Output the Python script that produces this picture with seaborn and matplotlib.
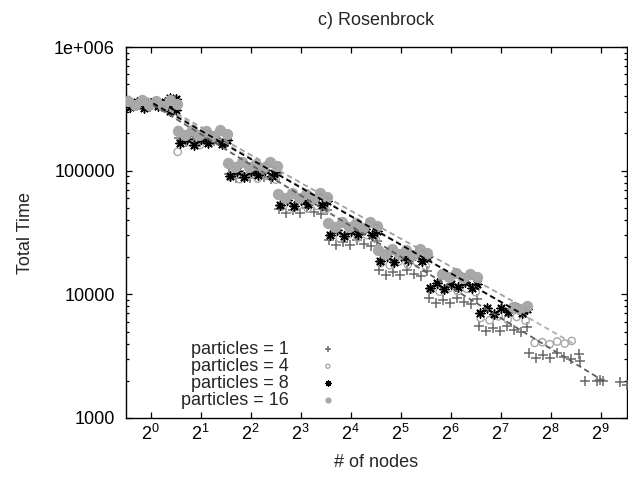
import numpy as np
import pandas as pd
import matplotlib
matplotlib.use("Agg")
import matplotlib.pyplot as plt
import seaborn as sns
from matplotlib.ticker import NullLocator, LogLocator, NullFormatter

# ---------------- data (log2 of node count, total time) ----------------
series_labels = ["particles = 1", "particles = 4", "particles = 8", "particles = 16"]

p1_log2n = [
    -0.44, -0.30, -0.16, -0.02, 0.12, 0.26, 0.40, 0.52,
    0.56, 0.70, 0.84, 0.98, 1.12, 1.26, 1.40, 1.52,
    1.56, 1.70, 1.84, 1.98, 2.12, 2.26, 2.40, 2.52,
    2.56, 2.70, 2.84, 2.98, 3.12, 3.26, 3.40, 3.52,
    3.56, 3.70, 3.84, 3.98, 4.12, 4.26, 4.40, 4.52,
    4.56, 4.70, 4.84, 4.98, 5.12, 5.26, 5.40, 5.52,
    5.56, 5.70, 5.84, 5.98, 6.12, 6.26, 6.40, 6.52,
    6.56, 6.70, 6.84, 6.98, 7.12, 7.26, 7.40, 7.52,
    7.56, 7.70, 7.84, 7.98, 8.12, 8.26, 8.40, 8.56,
    8.58, 8.68, 8.92, 8.98, 9.04, 9.38, 9.52]
p1_time = [
    360e3, 333e3, 350e3, 329e3, 364e3, 340e3, 326e3, 354e3,
    185e3, 171e3, 180e3, 169e3, 187e3, 175e3, 167e3, 182e3,
    94.8e3, 87.4e3, 92.0e3, 86.5e3, 95.7e3, 89.2e3, 85.6e3, 92.9e3,
    49.4e3, 45.6e3, 48.0e3, 45.1e3, 49.9e3, 46.6e3, 44.6e3, 48.5e3,
    27.3e3, 25.2e3, 26.5e3, 24.9e3, 27.6e3, 25.7e3, 24.6e3, 26.8e3,
    15.7e3, 14.4e3, 15.2e3, 14.3e3, 15.8e3, 14.7e3, 14.1e3, 15.4e3,
    9.27e3, 8.55e3, 9.00e3, 8.46e3, 9.36e3, 8.73e3, 8.37e3, 9.09e3,
    5.51e3, 5.08e3, 5.35e3, 5.03e3, 5.56e3, 5.19e3, 4.98e3, 5.40e3,
    3.34e3, 3.08e3, 3.24e3, 3.05e3, 3.37e3, 3.14e3, 3.01e3, 3.27e3,
    2.90e3, 2.00e3, 1.98e3, 2.02e3, 2.00e3, 1.95e3, 1.85e3]

p4_log2n = [
    -0.40, -0.22, -0.04, 0.14, 0.32, 0.50,
    0.60, 0.78, 0.96, 1.14, 1.32, 1.50, 0.54, 0.98, 0.55,
    1.60, 1.78, 1.96, 2.14, 2.32, 2.50,
    2.60, 2.78, 2.96, 3.14, 3.32, 3.50,
    3.60, 3.78, 3.96, 4.14, 4.32, 4.50,
    4.60, 4.78, 4.96, 5.14, 5.32, 5.50,
    5.60, 5.78, 5.96, 6.14, 6.32, 6.50,
    6.60, 6.78, 6.96, 7.14, 7.32, 7.50,
    7.68, 7.83, 7.98, 8.13, 8.28, 8.42]
p4_time = [
    350e3, 336e3, 360e3, 340e3, 357e3, 333e3,
    177e3, 170e3, 182e3, 172e3, 181e3, 168e3, 142e3, 161e3, 213e3,
    89.0e3, 85.4e3, 91.7e3, 86.3e3, 90.8e3, 84.6e3,
    51.0e3, 49.0e3, 52.5e3, 49.5e3, 52.0e3, 48.5e3,
    29.6e3, 28.4e3, 30.5e3, 28.7e3, 30.2e3, 28.1e3,
    17.9e3, 17.2e3, 18.4e3, 17.4e3, 18.3e3, 17.0e3,
    10.9e3, 10.5e3, 11.2e3, 10.6e3, 11.1e3, 10.4e3,
    6.44e3, 6.18e3, 6.63e3, 6.25e3, 6.57e3, 6.12e3,
    4.05e3, 4.10e3, 3.95e3, 4.15e3, 4.00e3, 4.20e3]

p8_log2n = [
    -0.42, -0.28, -0.14, 0.00, 0.14, 0.28, 0.42, 0.53, 0.38, 0.38, 0.38, 0.50, 0.50,
    0.58, 0.72, 0.86, 1.00, 1.14, 1.28, 1.42, 1.53,
    1.58, 1.72, 1.86, 2.00, 2.14, 2.28, 2.42, 2.53,
    2.58, 2.72, 2.86, 3.00, 3.14, 3.28, 3.42, 3.53,
    3.58, 3.72, 3.86, 4.00, 4.14, 4.28, 4.42, 4.53,
    4.58, 4.72, 4.86, 5.00, 5.14, 5.28, 5.42, 5.53,
    5.58, 5.72, 5.86, 6.00, 6.14, 6.28, 6.42, 6.53,
    6.58, 6.72, 6.86, 7.00, 7.14, 7.28, 7.42, 7.53]
p8_time = [
    330e3, 356e3, 322e3, 353e3, 333e3, 362e3, 326e3, 349e3, 385e3, 345e3, 305e3, 380e3, 310e3,
    166e3, 181e3, 162e3, 179e3, 168e3, 183e3, 164e3, 177e3,
    91.0e3, 99.5e3, 89.0e3, 98.5e3, 92.0e3, 100.5e3, 90.0e3, 97.5e3,
    53.0e3, 58.0e3, 52.0e3, 57.4e3, 53.6e3, 58.5e3, 52.5e3, 56.9e3,
    30.3e3, 33.2e3, 29.7e3, 32.8e3, 30.7e3, 33.5e3, 30.0e3, 32.5e3,
    18.7e3, 20.5e3, 18.3e3, 20.3e3, 18.9e3, 20.7e3, 18.5e3, 20.1e3,
    11.3e3, 12.4e3, 11.1e3, 12.2e3, 11.5e3, 12.5e3, 11.2e3, 12.1e3,
    7.12e3, 7.78e3, 6.97e3, 7.70e3, 7.18e3, 7.85e3, 7.04e3, 7.62e3]

p16_log2n = [
    -0.45, -0.31, -0.17, -0.03, 0.11, 0.25, 0.39, 0.52,
    0.55, 0.69, 0.83, 0.97, 1.11, 1.25, 1.39, 1.52,
    1.55, 1.69, 1.83, 1.97, 2.11, 2.25, 2.39, 2.52,
    2.55, 2.69, 2.83, 2.97, 3.11, 3.25, 3.39, 3.52,
    3.55, 3.69, 3.83, 3.97, 4.11, 4.25, 4.39, 4.52,
    4.55, 4.69, 4.83, 4.97, 5.11, 5.25, 5.39, 5.52,
    5.83, 5.97, 6.11, 6.25, 6.39, 6.52,
    7.25, 7.39, 7.52]
p16_time = [
    367e3, 339e3, 371e3, 342e3, 364e3, 335e3, 374e3, 346e3,
    210e3, 194e3, 212e3, 196e3, 208e3, 192e3, 214e3, 198e3,
    115e3, 107e3, 117e3, 108e3, 114e3, 105e3, 118e3, 109e3,
    64.9e3, 59.9e3, 65.5e3, 60.5e3, 64.3e3, 59.3e3, 66.1e3, 61.2e3,
    37.9e3, 34.9e3, 38.2e3, 35.3e3, 37.5e3, 34.6e3, 38.6e3, 35.7e3,
    22.9e3, 21.1e3, 23.1e3, 21.3e3, 22.7e3, 20.9e3, 23.3e3, 21.6e3,
    14.7e3, 13.7e3, 14.9e3, 13.6e3, 14.6e3, 13.9e3,
    7.9e3, 7.6e3, 8.0e3]

# fitted trend lines (end points, log2 nodes / time)
fit_p1_log2n = [0.05, 9.05]
fit_p1_time = [3.4e5, 2.0e3]
fit_p4_log2n = [0.05, 8.45]
fit_p4_time = [3.6e5, 4.0e3]
fit_p8_log2n = [0.05, 7.55]
fit_p8_time = [3.5e5, 6.5e3]
fit_p16_log2n = [0.05, 7.55]
fit_p16_time = [3.7e5, 7.5e3]

x_tick_exps = list(range(10))
y_ticks = [1e3, 1e4, 1e5, 1e6]
y_tick_labels = ["1000", "10000", "100000", "1e+006"]

# ---------------- style ----------------
sns.set_style("ticks")
plt.rcParams["font.family"] = ["Liberation Sans", "DejaVu Sans"]
plt.rcParams["mathtext.fontset"] = "custom"
plt.rcParams["mathtext.rm"] = "Liberation Sans"
plt.rcParams["mathtext.it"] = "Liberation Sans"
plt.rcParams["mathtext.default"] = "regular"
plt.rcParams["font.size"] = 13

fig = plt.figure(figsize=(6.28, 4.79), dpi=100)
ax = fig.add_axes([126 / 628, 1 - 418 / 479, (627 - 126) / 628, (418 - 47) / 479])

def nodes(e):
    return 2.0 ** np.asarray(e, dtype=float)

c1, c4, c8, c16 = "#686868", "#a8a8a8", "#000000", "#a8a8a8"
dash = (0, (3, 2))

sns.scatterplot(x=nodes(p1_log2n), y=p1_time, marker="+", s=60, color=c1,
                linewidth=1.1, label=series_labels[0], ax=ax, zorder=3)
sns.scatterplot(x=nodes(p4_log2n), y=p4_time, marker="o", s=28, color=c4,
                facecolor="none", edgecolor=c4, linewidth=1.0,
                label=series_labels[1], ax=ax, zorder=3)
sns.scatterplot(x=nodes(p8_log2n), y=p8_time, marker=(8, 2, 0), s=42, color=c8,
                edgecolor=c8, linewidth=1.1, label=series_labels[2], ax=ax, zorder=3)
sns.scatterplot(x=nodes(p16_log2n), y=p16_time, marker="o", s=66, color=c16,
                edgecolor=c16, linewidth=0, label=series_labels[3], ax=ax, zorder=3)

sns.lineplot(x=nodes(fit_p1_log2n), y=fit_p1_time, color="#606060", linestyle=dash,
             linewidth=1.3, legend=False, ax=ax, zorder=4)
sns.lineplot(x=nodes(fit_p4_log2n), y=fit_p4_time, color="#b0b0b0", linestyle=dash,
             linewidth=1.3, legend=False, ax=ax, zorder=4)
sns.lineplot(x=nodes(fit_p16_log2n), y=fit_p16_time, color="#a0a0a0", linestyle=dash,
             linewidth=1.3, legend=False, ax=ax, zorder=4)
sns.lineplot(x=nodes(fit_p8_log2n), y=fit_p8_time, color="#000000", linestyle=dash,
             linewidth=1.3, legend=False, ax=ax, zorder=4)

ax.set_xscale("log", base=2)
ax.set_yscale("log")
ax.set_xlim(2 ** -0.494, 2 ** 9.526)
ax.set_ylim(1e3, 1e6)

ax.set_xticks([2.0 ** k for k in x_tick_exps])
ax.set_xticklabels([f"$2^{{{k}}}$" for k in x_tick_exps])
ax.xaxis.set_minor_locator(NullLocator())
ax.set_yticks(y_ticks)
ax.set_yticklabels(y_tick_labels)
ax.yaxis.set_minor_locator(LogLocator(base=10, subs=np.arange(2, 10)))
ax.yaxis.set_minor_formatter(NullFormatter())

ax.tick_params(which="both", direction="in", top=True, right=True, colors="black",
               labelsize=13, width=0.9)
ax.tick_params(which="major", length=4.5)
ax.tick_params(which="minor", length=2.5)
ax.tick_params(axis="y", which="major", pad=8)
ax.tick_params(axis="x", which="major", pad=4)
for sp in ax.spines.values():
    sp.set_linewidth(1.0)
    sp.set_color("black")

ax.set_xlabel("# of nodes", fontsize=13)
ax.set_ylabel("Total Time", fontsize=13)
ax.xaxis.set_label_coords(0.5, -0.097)
ax.yaxis.set_label_coords(-0.184, 0.5)
ax.set_title("c) Rosenbrock", fontsize=13, pad=16)

handles, labels = ax.get_legend_handles_labels()
leg = ax.legend(handles, labels, loc="center", bbox_to_anchor=(0.2745, 0.116),
                markerfirst=False, frameon=False, fontsize=13, labelspacing=0.0,
                handlelength=2.0, handletextpad=1.15, markerscale=0.55,
                borderpad=0.2)

fig.savefig("out.png", dpi=100)
